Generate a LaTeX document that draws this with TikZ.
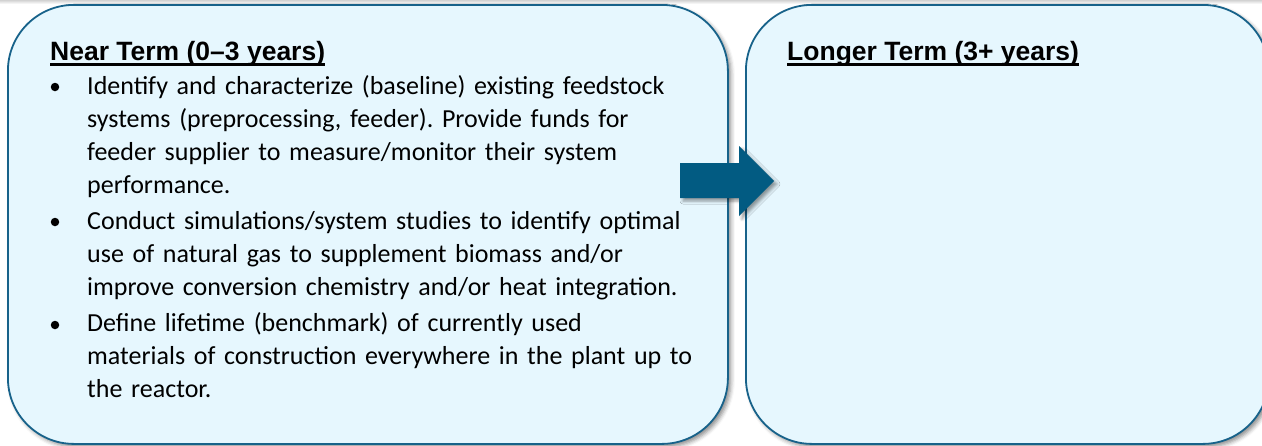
\documentclass[tikz,border=0pt]{standalone}
\usepackage{fontspec}
\setmainfont{Carlito}
\newfontfamily\arialfont{Liberation Sans}
\usetikzlibrary{shadows.blur}
\definecolor{boxfill}{HTML}{E6F7FE}
\definecolor{boxline}{HTML}{17628A}
\definecolor{arrowfill}{HTML}{025B82}
\frenchspacing
\begin{document}
\begin{tikzpicture}[x=1pt,y=-1pt,
  panel/.style={draw=boxline, line width=1.8pt, fill=boxfill, rounded corners=66pt,
    inner sep=0pt, anchor=north west,
    blur shadow={shadow xshift=3pt, shadow yshift=-3pt, shadow blur radius=4pt, shadow opacity=45}},
  ttl/.style={font=\arialfont\bfseries\fontsize{26.5}{30}\selectfont, anchor=base west, inner sep=0pt},
  bul/.style={font=\fontsize{26}{33}\selectfont, anchor=base west, inner sep=0pt,
    text width=640pt, align=left},
  bdot/.style={circle, fill=black, minimum size=8.5pt, inner sep=0pt},
  uline/.style={line width=2.3pt}]
\useasboundingbox (0,0) rectangle (1262,445);
\shade[top color=gray!35, bottom color=white] (0,0) rectangle (1262,4);
\node[panel, minimum width=720pt, minimum height=439pt] (near) at (7,4) {};
\node[panel, minimum width=523pt, minimum height=439pt] (longer) at (745,4) {};
\fill[arrowfill, blur shadow={shadow xshift=3pt, shadow yshift=-3pt, shadow blur radius=3pt, shadow opacity=40}]
  (680,163) -- (739,163) -- (739,146) -- (774,181) -- (739,216) -- (739,198) -- (680,198) -- cycle;
\node[ttl] (t1) at (50,60) {Near Term (0–3 years)};
\draw[uline] ([yshift=-4.5pt]t1.base west) -- ([yshift=-4.5pt]t1.base east);
\node[ttl] (t2) at (787,60) {Longer Term (3+ years)};
\draw[uline] ([yshift=-4.5pt]t2.base west) -- ([yshift=-4.5pt]t2.base east);
\node[bdot] (d1) at (55,87) {};
\node[bul] (p1) at (87,94) {Identify and characterize (baseline) existing feedstock\\
systems (preprocessing, feeder). Provide funds for\\
feeder supplier to measure/monitor their system\\
performance.};
\node[bdot] (d2) at (55,222) {};
\node[bul] (p2) at (87,229) {Conduct simulations/system studies to identify optimal\\
use of natural gas to supplement biomass and/or\\
improve conversion chemistry and/or heat integration.};
\node[bdot] (d3) at (55,325) {};
\node[bul] (p3) at (87,331) {Define lifetime (benchmark) of currently used\\
materials of construction everywhere in the plant up to\\
the reactor.};
\end{tikzpicture}
\end{document}
